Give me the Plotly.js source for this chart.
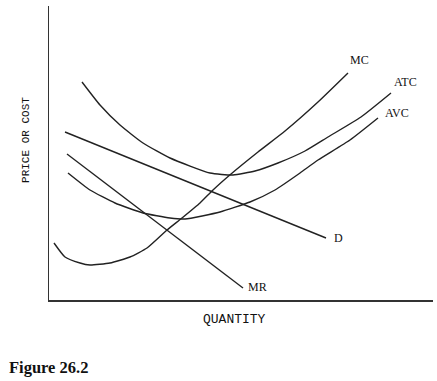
<!DOCTYPE html>
<html>
<head>
<meta charset="utf-8">
<script src="https://cdn.plot.ly/plotly-3.0.1.min.js"></script>
<style>html,body{margin:0;padding:0;background:#fff;}#chart{width:437px;height:381px;}</style>
</head>
<body>
<div id="chart"></div>
<script>
// Curve data (quantity, price)
var atcQ = [82, 100, 120, 143, 170, 210, 233, 255, 278, 305, 328, 361, 391];
var atcP = [218, 195, 175, 157, 142, 127, 125, 129, 137, 149, 163, 183, 207];

var mcQ = [54, 65, 80, 90, 110, 130, 147, 167, 182, 200, 213, 231, 258, 285, 318, 348];
var mcP = [57, 43, 37, 35, 37, 43, 52, 70, 82, 97, 110, 126, 148, 169, 198, 227];

var avcQ = [68, 90, 115, 143, 170, 185, 220, 250, 275, 300, 318, 350, 378];
var avcP = [127, 110, 97, 87, 82, 81, 88, 98, 110, 127, 140, 160, 182];

var dQ = [65, 326];
var dP = [168, 62];

var mrQ = [67, 243];
var mrP = [146, 12];

var labels = ["MC", "ATC", "AVC", "D", "MR"];
var labelQ = [359, 405, 397, 338, 257];
var labelP = [240, 218, 187, 62, 13];

var lineStyle = {color: "#222", width: 1.4, shape: "spline", smoothing: 0.5};
function tr(x, y, name) {
  return {x: x, y: y, name: name, type: "scatter", mode: "lines", line: lineStyle, hoverinfo: "skip"};
}
var data = [
  tr(atcQ, atcP, "ATC"),
  tr(mcQ, mcP, "MC"),
  tr(avcQ, avcP, "AVC"),
  tr(dQ, dP, "D"),
  tr(mrQ, mrP, "MR")
];

var ann = labels.map(function(t, i) {
  return {x: labelQ[i], y: labelP[i], xref: "x", yref: "y", text: t, showarrow: false,
          font: {family: "Liberation Serif", size: 12, color: "#111"}};
});
ann.push({xref: "paper", yref: "paper", x: 0.483, xanchor: "center", y: -0.068, yanchor: "middle", text: "QUANTITY", showarrow: false,
          font: {family: "Liberation Mono", size: 13, color: "#111"}});
ann.push({xref: "paper", yref: "y", x: -0.06, xanchor: "center", y: 160, text: "PRICE OR COST", textangle: -90, showarrow: false,
          font: {family: "Liberation Mono", size: 11, color: "#111"}});
ann.push({xref: "paper", yref: "paper", x: -0.11, xanchor: "left", y: -0.23, yanchor: "middle", text: "<b>Figure 26.2</b>", showarrow: false,
          font: {family: "Liberation Serif", size: 16.5, color: "#111"}});

var layout = {
  width: 437, height: 381,
  margin: {l: 49, r: 4, t: 6, b: 81},
  paper_bgcolor: "#fff", plot_bgcolor: "#fff",
  showlegend: false,
  xaxis: {range: [49, 433], showline: true, linecolor: "#333", linewidth: 1.5, showgrid: false, zeroline: false, showticklabels: false, ticks: "", fixedrange: true},
  yaxis: {range: [0, 294], showline: true, linecolor: "#333", linewidth: 1.5, showgrid: false, zeroline: false, showticklabels: false, ticks: "", fixedrange: true},
  annotations: ann
};
Plotly.newPlot("chart", data, layout, {displayModeBar: false, staticPlot: true});
</script>
</body>
</html>
